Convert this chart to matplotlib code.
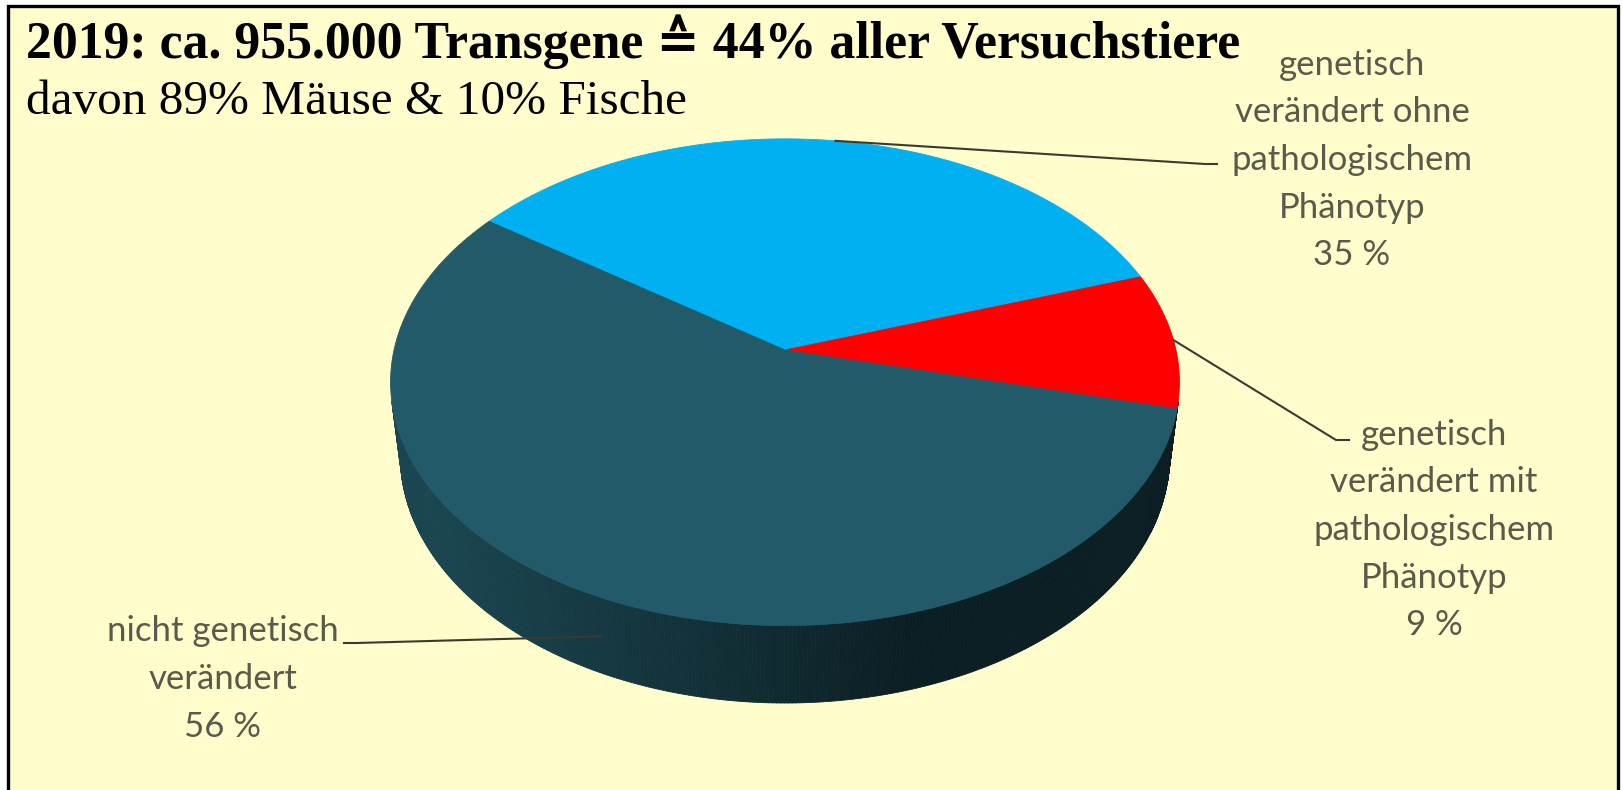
import numpy as np
import matplotlib.pyplot as plt
from matplotlib.patches import Polygon, Rectangle
from matplotlib.collections import PolyCollection

# data
labels = [
    "genetisch\nverändert ohne\npathologischem\nPhänotyp",
    "genetisch\nverändert mit\npathologischem\nPhänotyp",
    "nicht genetisch\nverändert",
]
shares = [35, 9, 56]
colors = ["#00B0F0", "#FF0000", "#225A69"]
title = "2019: ca. 955.000 Transgene \u2259 44% aller Versuchstiere"
subtitle = "davon 89% Mäuse & 10% Fische"

# 3d view of the pie (pixel space of the figure)
ELEV = np.radians(37.7)
DIST = 5.98
FOCAL = 2338
DEPTH = 0.246
CX, CY = 785, 350
START = 144.6  # degrees, slices go clockwise

# label layout: text centre, leader elbow, leader end
label_pos = [(1352, 160), (1434, 530), (223, 679)]
leader_elbow = [(1205, 164), (1336, 440), (356, 643)]
leader_end = [(1217, 164), (1349, 440), (344, 643)]

SERIF = ["Liberation Serif", "DejaVu Serif", "DejaVu Sans", "Noto Sans CJK JP"]


def project(x, y, z):
    c, s = np.cos(ELEV), np.sin(ELEV)
    qy = y + DIST * c
    qz = z - DIST * s
    d = qy * c - qz * s
    return CX + FOCAL * x / d, CY - FOCAL * (qy * s + qz * c) / d


def rim(theta, z=0.0):
    t = np.radians(theta)
    return project(np.cos(t), np.sin(t), z)


def side_visible(theta):
    return np.sin(np.radians(theta)) < -1.0 / (DIST * np.cos(ELEV))


def shade(hex_color, theta):
    t = np.radians(theta)
    light = np.array([-0.958, -0.287])
    k = 0.33 + 0.45 * max(0.0, np.cos(t) * light[0] + np.sin(t) * light[1])
    rgb = np.array([int(hex_color[i:i + 2], 16) for i in (1, 3, 5)]) / 255.0
    return tuple(rgb * k)


fig = plt.figure(figsize=(16.24, 7.9), dpi=100)
fig.patch.set_facecolor("white")
ax = fig.add_axes([0, 0, 1, 1])
ax.set_xlim(0, 1624)
ax.set_ylim(790, 0)
ax.axis("off")

ax.add_patch(Rectangle((8, 6), 1610, 800, facecolor="#FFFDCC",
                       edgecolor="black", linewidth=2.4, zorder=0))

bounds = START - np.cumsum([0] + shares) / sum(shares) * 360.0
mids = (bounds[:-1] + bounds[1:]) / 2

# side wall
quads, qcols = [], []
for i in range(len(shares)):
    th = np.linspace(bounds[i], bounds[i + 1], 400)
    for a, b in zip(th[:-1], th[1:]):
        m = (a + b) / 2
        if not side_visible(m):
            continue
        p1, p2 = rim(a), rim(b)
        p3, p4 = rim(b, -DEPTH), rim(a, -DEPTH)
        quads.append([p1, p2, p3, p4])
        qcols.append(shade(colors[i], m))
ax.add_collection(PolyCollection(quads, facecolors=qcols, edgecolors=qcols,
                                 linewidths=0.6, zorder=1))

# top faces
apex = project(0, 0, 0)
for i in range(len(shares)):
    th = np.linspace(bounds[i], bounds[i + 1], 300)
    xs, ys = rim(th)
    pts = [apex] + list(zip(xs, ys))
    ax.add_patch(Polygon(pts, closed=True, facecolor=colors[i],
                         edgecolor=colors[i], linewidth=0.6, zorder=2))

# labels + leader lines
for i in range(len(shares)):
    if side_visible(mids[i]) and i == 2:
        start = rim(mids[i], -DEPTH / 2)
    else:
        start = rim(mids[i])
    xs = [start[0], leader_elbow[i][0], leader_end[i][0]]
    ys = [start[1], leader_elbow[i][1], leader_end[i][1]]
    ax.plot(xs, ys, color="#3A3A30", linewidth=1.5, zorder=3)
    ax.text(label_pos[i][0], label_pos[i][1], f"{labels[i]}\n{shares[i]} %",
            ha="center", va="center", multialignment="center",
            fontsize=25, family="Lato", color="#5A5A4C", linespacing=1.6,
            zorder=4)

ax.text(26, 58, title, ha="left", va="baseline", fontsize=37.3,
        fontweight="bold", family=SERIF, color="black", zorder=4)
ax.text(26, 114, subtitle, ha="left", va="baseline", fontsize=35.5,
        family=SERIF, color="black", zorder=4)

fig.savefig("out.png", dpi=100, facecolor=fig.get_facecolor())
